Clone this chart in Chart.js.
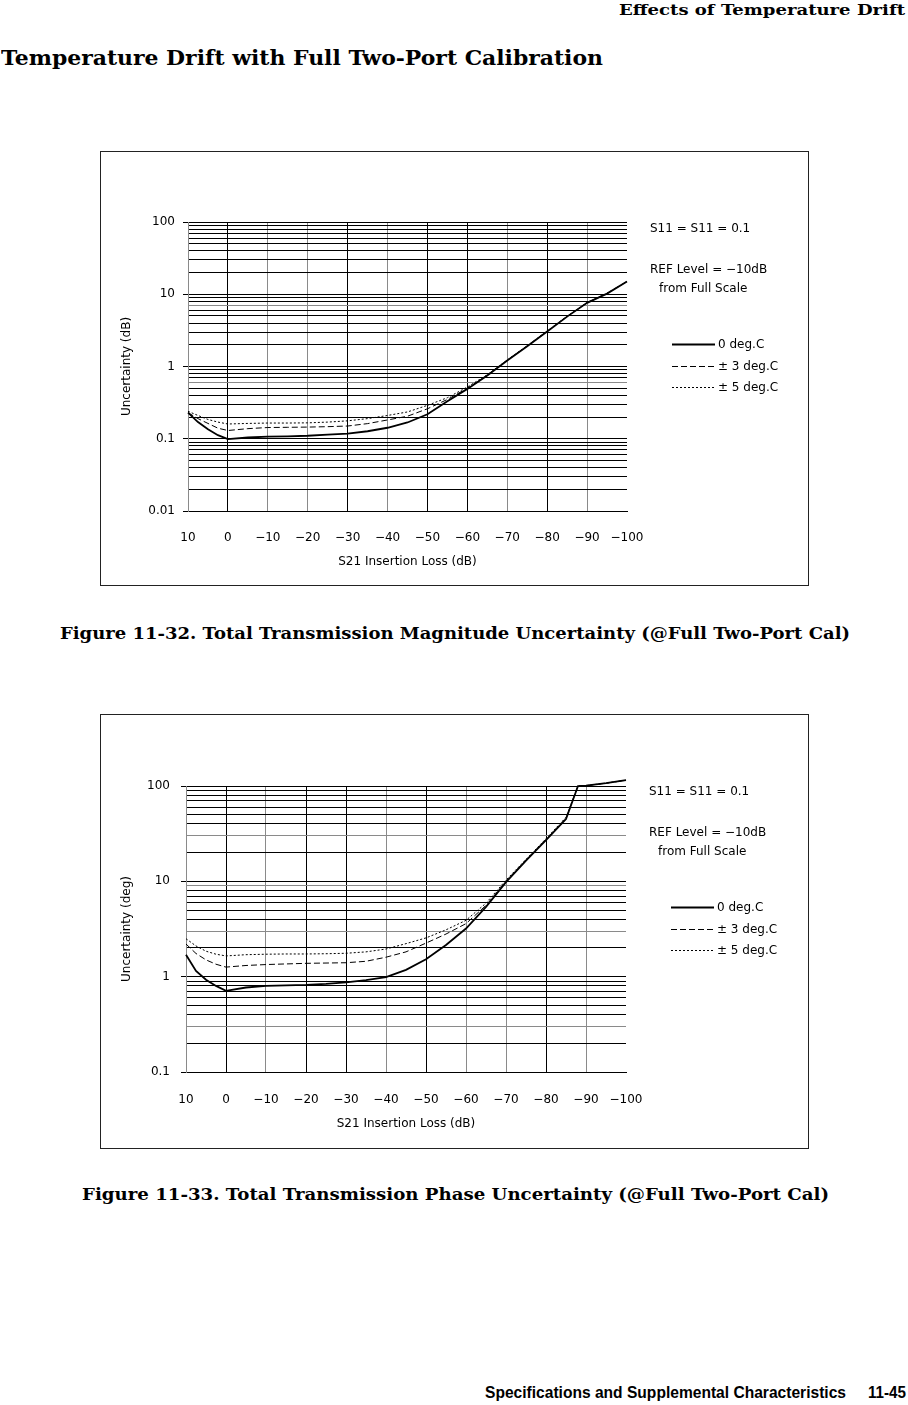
<!DOCTYPE html>
<html><head><meta charset="utf-8">
<script src="https://cdn.jsdelivr.net/npm/chart.js@4/dist/chart.umd.min.js"></script>
<style>
html,body{margin:0;padding:0;background:#fff;}
#page{position:relative;width:908px;height:1405px;overflow:hidden;background:#fff;}
.t{position:absolute;white-space:nowrap;color:#000;line-height:1;transform-origin:0 50%;}
.serif{font-family:"DejaVu Serif","Liberation Serif",serif;font-weight:bold;}
.sans{font-family:"Liberation Sans Narrow","Liberation Sans",sans-serif;font-weight:bold;}
.box{position:absolute;left:100px;width:709px;height:435px;border:1px solid #222;box-sizing:border-box;}
.box canvas{position:absolute;left:0;top:0;}
</style></head>
<body><div id="page">
<div class="t serif" data-x="619" data-w="286" data-cy="10" style="font-size:15px;">Effects of Temperature Drift</div>
<div class="t serif" data-x="1" data-w="602" data-cy="58" style="font-size:20px;">Temperature Drift with Full Two-Port Calibration</div>
<div class="box" style="top:151px;"><canvas id="c1" width="707" height="433"></canvas></div>
<div class="t serif" data-x="60" data-w="790" data-cy="634" style="font-size:16px;">Figure 11-32. Total Transmission Magnitude Uncertainty (@Full Two-Port Cal)</div>
<div class="box" style="top:714px;"><canvas id="c2" width="707" height="433"></canvas></div>
<div class="t serif" data-x="82" data-w="747" data-cy="1195" style="font-size:16px;">Figure 11-33. Total Transmission Phase Uncertainty (@Full Two-Port Cal)</div>
<div class="t sans" data-x="485" data-w="361" data-cy="1393" style="font-size:16px;">Specifications and Supplemental Characteristics</div>
<div class="t sans" data-x="868" data-w="38" data-cy="1393" style="font-size:16px;">11-45</div>
</div>
<script>
// ---------- data ----------
const xTickValues = [-100,-90,-80,-70,-60,-50,-40,-30,-20,-10,0,10];
const xTickLabels = ['\u2212100','\u221290','\u221280','\u221270','\u221260','\u221250','\u221240','\u221230','\u221220','\u221210','0','10'];
const yDecades = [0.01,0.1,1,10,100];
const yDecadeLabels = ['0.01','0.1','1','10','100'];
const seriesLabels = ['0 deg.C','\u00B1 3 deg.C','\u00B1 5 deg.C'];
const xTitle = 'S21 Insertion Loss (dB)';
const yTitleMag = 'Uncertainty (dB)';
const yTitlePh = 'Uncertainty (deg)';
const noteS11 = 'S11 = S11 = 0.1';
const noteRef = 'REF Level = \u221210dB';
const noteFrom = 'from Full Scale';

// Figure 11-32 : magnitude uncertainty (dB)
const xMag = [10,7.5,5,2.5,0,-5,-10,-15,-20,-25,-30,-35,-40,-45,-50,-55,-60,-65,-70,-75,-80,-85,-90,-95,-100];
const mag0 = [0.23,0.17,0.135,0.112,0.099,0.104,0.107,0.108,0.110,0.114,0.118,0.127,0.142,0.168,0.218,0.33,0.49,0.75,1.21,1.91,3.06,4.9,7.6,10.2,15];
const mag3 = [0.23,0.19,0.163,0.14,0.13,0.138,0.143,0.144,0.145,0.147,0.150,0.162,0.182,0.205,0.26,0.35,0.50,0.76,1.22,1.93,3.08,4.95,7.6,10.3,15];
const mag5 = [0.24,0.21,0.185,0.17,0.16,0.163,0.165,0.165,0.166,0.170,0.177,0.190,0.210,0.235,0.29,0.37,0.52,0.77,1.23,1.94,3.1,4.95,7.7,10.3,15];

// Figure 11-33 : phase uncertainty (deg)
const xPh = [10,7.5,5,2.5,0,-5,-10,-15,-20,-25,-30,-35,-40,-45,-50,-55,-60,-65,-70,-75,-80,-85,-88,-90,-95,-100];
const ph0 = [1.70,1.15,0.93,0.80,0.71,0.77,0.80,0.81,0.82,0.84,0.87,0.92,0.99,1.18,1.52,2.15,3.2,5.4,9.8,16.5,27,45,100,101,107,115];
const ph3 = [2.2,1.75,1.5,1.35,1.26,1.31,1.34,1.36,1.38,1.39,1.40,1.45,1.60,1.82,2.25,2.8,3.6,5.6,10,16.8,27.5,46,100,101,107,115];
const ph5 = [2.5,2.1,1.85,1.72,1.65,1.70,1.72,1.73,1.73,1.74,1.76,1.82,1.95,2.22,2.55,3.1,3.9,5.9,10.3,17,28,47,100,101,107,115];

// ---------- page text fitting ----------
document.querySelectorAll('.t').forEach(el => {
  const r = el.getBoundingClientRect();
  el.style.left = el.dataset.x + 'px';
  el.style.top = (+el.dataset.cy - r.height / 2) + 'px';
  el.style.transform = 'scaleX(' + (+el.dataset.w / r.width) + ')';
});

// ---------- chart ----------
const FONT = '"DejaVu Sans","Noto Sans",sans-serif';
const font = {family: FONT, size: 12};
const GRAY = '#8a8a8a';
const styles = [
  {w: 1.8, dash: []},
  {w: 1, dash: [6, 3]},
  {w: 1, dash: [2, 2]}
];
function buildLogTicks(minDec) {
  const out = [];
  for (let e = minDec; e < 2; e++) for (let m = 1; m <= 9; m++) out.push(+(m * Math.pow(10, e)).toPrecision(3));
  out.push(100);
  return out;
}
function isDecade(v) { const l = Math.log10(v); return Math.abs(l - Math.round(l)) < 1e-9; }
function near(a, b) { return Math.abs(Math.log10(a) - Math.log10(b)) < 1e-6; }

const notePlugin = {
  id: 'notes',
  afterDraw(chart) {
    const {ctx, chartArea} = chart;
    const o = chart.options.plugins.notes;
    ctx.save();
    ctx.font = '12px ' + FONT;
    ctx.fillStyle = '#000';
    ctx.textBaseline = 'middle';
    const x0 = chartArea.right + 23;
    ctx.fillText(noteS11, x0, chartArea.top + o.noteTop);
    ctx.fillText(noteRef, x0, chartArea.top + o.noteTop + 41);
    ctx.fillText(noteFrom, x0 + 9, chartArea.top + o.noteTop + 60);
    chart.data.datasets.forEach((ds, i) => {
      const y = Math.round(chartArea.top + o.legendTop + i * 21.5) + 0.5;
      ctx.beginPath();
      ctx.setLineDash(ds.borderDash || []);
      ctx.lineWidth = ds.borderWidth;
      ctx.strokeStyle = ds.borderColor;
      ctx.moveTo(x0 + 22, y); ctx.lineTo(x0 + 65, y); ctx.stroke();
      ctx.setLineDash([]);
      ctx.fillText(ds.label, x0 + 68, y);
    });
    ctx.restore();
  }
};

function makeChart(id, cfg) {
  const yTicks = buildLogTicks(Math.round(Math.log10(cfg.yMin)));
  return new Chart(document.getElementById(id), {
    type: 'line',
    data: {
      datasets: cfg.series.map((ys, k) => ({
        label: seriesLabels[k],
        data: cfg.x.map((x, i) => ({x: x, y: ys[i]})),
        borderColor: '#000', borderWidth: styles[k].w, borderDash: styles[k].dash,
        pointRadius: 0, tension: 0, fill: false, clip: false
      }))
    },
    options: {
      responsive: false, animation: false, devicePixelRatio: 1,
      layout: {padding: {left: 0, top: cfg.padTop, right: cfg.padRight, bottom: 0}},
      plugins: {legend: {display: false}, tooltip: {enabled: false},
                notes: {legendTop: cfg.legendTop, noteTop: cfg.noteTop}},
      scales: {
        x: {
          type: 'linear', min: -100, max: 10, reverse: true,
          afterBuildTicks: sc => { sc.ticks = xTickValues.map(v => ({value: v})); },
          afterFit: sc => { sc.height = cfg.xAxisH; },
          ticks: {autoSkip: false, maxRotation: 0, padding: cfg.xTickPad, color: '#000', font: font,
                  callback: (v, i) => xTickLabels[i]},
          grid: {drawTicks: false, lineWidth: 1,
                 color: c => { const v = c.tick ? c.tick.value : null;
                   if (v === -100) return 'rgba(0,0,0,0)';
                   return cfg.vGray.includes(v) ? GRAY : '#000'; }},
          border: {display: true, color: '#000', width: 1},
          title: {display: true, text: xTitle, color: '#000', font: font, padding: {top: 0, bottom: cfg.xTitlePad}}
        },
        y: {
          type: 'logarithmic', min: cfg.yMin, max: 100,
          afterBuildTicks: sc => { sc.ticks = yTicks.map(v => ({value: v})); },
          afterFit: sc => { sc.width = cfg.yAxisW; },
          ticks: {autoSkip: false, padding: cfg.yTickPad, color: '#000', font: font,
                  callback: v => { const i = yDecades.findIndex(d => near(d, v)); return i >= 0 ? yDecadeLabels[i] : ''; }},
          grid: {tickLength: 5, lineWidth: 1,
                 color: c => { const v = c.tick ? c.tick.value : 1; return cfg.hGray.some(g => near(g, v)) ? GRAY : '#000'; },
                 tickColor: c => { const v = c.tick ? c.tick.value : 1; return isDecade(v) ? '#000' : 'rgba(0,0,0,0)'; }},
          border: {display: true, color: GRAY, width: 1},
          title: {display: true, text: cfg.yTitle, color: '#000', font: font, padding: {top: 19, bottom: 0}}
        }
      }
    },
    plugins: [notePlugin]
  });
}

makeChart('c1', {
  x: xMag, series: [mag0, mag3, mag5], yMin: 0.01, yTitle: yTitleMag,
  padTop: 70, padRight: 181, yAxisW: 87, xAxisH: 74, xTitlePad: 16, xTickPad: 20, yTickPad: 8,
  legendTop: 122, noteTop: 7,
  vGray: [10, -10, -20, -40, -70, -90], hGray: [7, 0.6]
});
makeChart('c2', {
  x: xPh, series: [ph0, ph3, ph5], yMin: 0.1, yTitle: yTitlePh,
  padTop: 71, padRight: 182, yAxisW: 85, xAxisH: 76, xTitlePad: 17, xTickPad: 21, yTickPad: 11,
  legendTop: 121, noteTop: 6,
  vGray: [10, -10, -40, -60, -70, -90], hGray: [30, 9, 3, 0.3]
});
</script>
</body></html>
